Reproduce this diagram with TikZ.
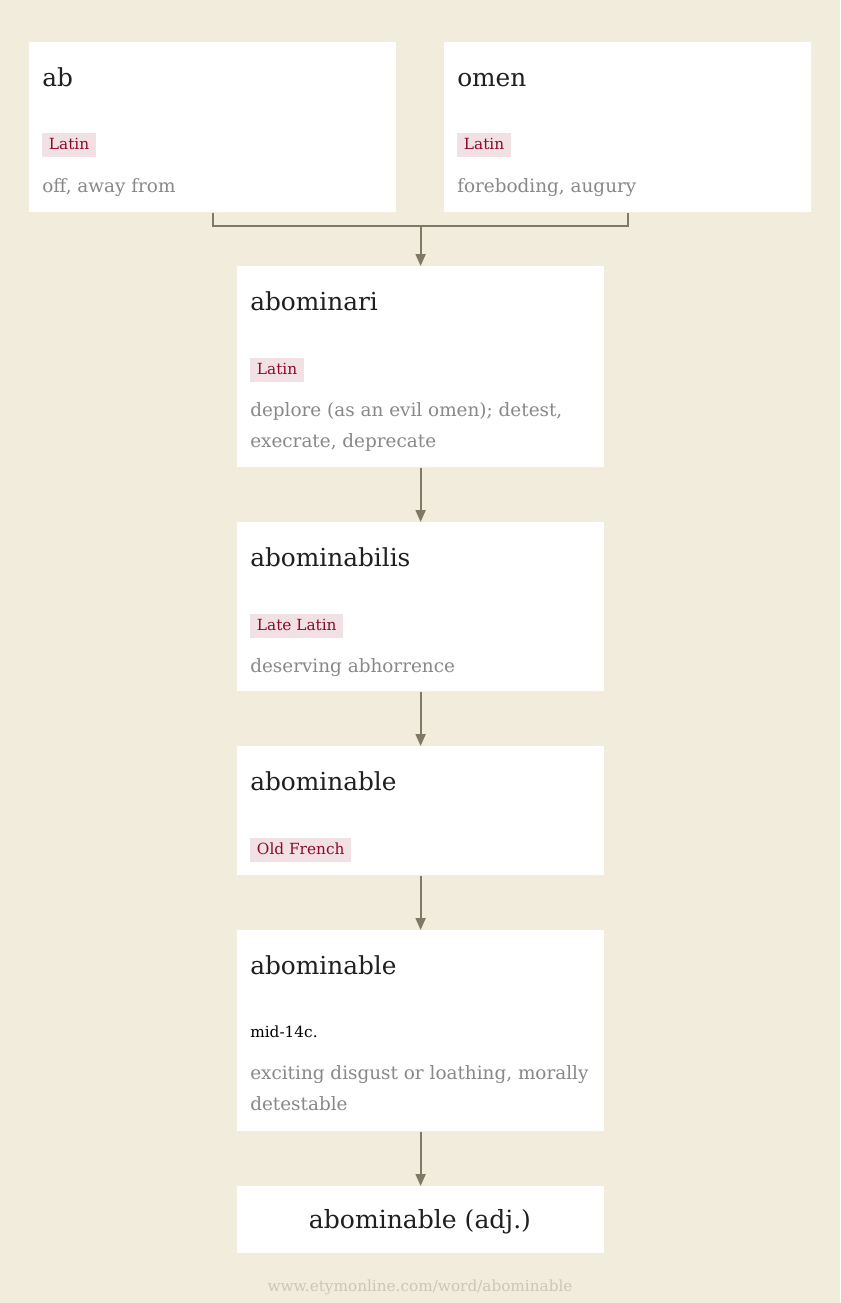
\documentclass[tikz,border=0pt]{standalone}
\usepackage{fontspec}
\setmainfont{DejaVu Serif}
\usetikzlibrary{arrows.meta,positioning}

\definecolor{paper}{RGB}{242,236,220}
\definecolor{tagbg}{RGB}{241,224,228}
\definecolor{tagtx}{RGB}{139,10,42}
\definecolor{glosstx}{RGB}{136,136,136}
\definecolor{linktx}{RGB}{128,121,104}
\definecolor{urltx}{RGB}{205,198,182}

\tikzset{
  wordbox/.style={fill=white, draw=none, anchor=north west, inner sep=0pt, minimum width=275pt},
  headword/.style={anchor=base west, inner sep=0pt, text=black!88, font=\fontsize{18.6}{22}\selectfont},
  langtag/.style={anchor=base west, fill=tagbg, text=tagtx, inner xsep=5pt, inner ysep=2.8pt,
    text height=9.5pt, text depth=3pt, font=\fontsize{11.5}{14}\selectfont},
  gloss/.style={anchor=base west, inner sep=0pt, text=glosstx, align=left, font=\fontsize{13.8}{23.25}\selectfont},
  link/.style={draw=linktx, line width=1.6pt},
  linkarrow/.style={link, -{Triangle[length=9pt,width=7.5pt]}}
}

\begin{document}
\begin{tikzpicture}[x=0.75pt,y=0.75pt,yscale=-1,xscale=1]
\useasboundingbox (0,0) rectangle (840,1303);
\fill[paper] (0,0) rectangle (840,1303);

% Boxes
\node[wordbox, minimum height=127.5pt] (ab) at (29,42) {};
\node[wordbox, minimum height=127.5pt] (omen) at (444,42) {};
\node[wordbox, minimum height=150.75pt] (abominari) at (237,266) {};
\node[wordbox, minimum height=126.75pt] (abominabilis) at (237,522) {};
\node[wordbox, minimum height=96.75pt] (abominableOF) at (237,746) {};
\node[wordbox, minimum height=150.75pt] (abominableME) at (237,930) {};
\node[wordbox, minimum height=50.25pt] (abominableAdj) at (237,1186) {};

% ab
\node[headword] (abTitle) at (42,86) {ab};
\node[langtag] (abLang) at (42,149) {Latin};
\node[gloss] (abGloss) at (42,192) {off, away from};
% omen
\node[headword] (omenTitle) at (457,86) {omen};
\node[langtag] (omenLang) at (457,149) {Latin};
\node[gloss] (omenGloss) at (457,192) {foreboding, augury};
% abominari
\node[headword] (abominariTitle) at (250,310) {abominari};
\node[langtag] (abominariLang) at (250,374) {Latin};
\node[gloss] (abominariGloss) at (250,447) {deplore (as an evil omen); detest,\\execrate, deprecate};
% abominabilis
\node[headword] (abominabilisTitle) at (250,566) {abominabilis};
\node[langtag] (abominabilisLang) at (250,630) {Late Latin};
\node[gloss] (abominabilisGloss) at (250,672) {deserving abhorrence};
% abominable, Old French
\node[headword] (abominableOFTitle) at (250,790) {abominable};
\node[langtag] (abominableOFLang) at (250,854) {Old French};
% abominable, mid-14c.
\node[headword] (abominableMETitle) at (250,974) {abominable};
\node[anchor=base west, inner sep=0pt, text=black, font=\fontsize{11.5}{14}\selectfont] (abominableMEDate) at (250,1037) {mid-14c.};
\node[gloss] (abominableMEGloss) at (250,1110) {exciting disgust or loathing, morally\\detestable};
% abominable (adj.)
\node[anchor=base, inner sep=0pt, text=black!88, font=\fontsize{18.8}{22}\selectfont] (abominableAdjTitle) at (420,1228) {abominable (adj.)};

% Connectors
\path (abominari.north) ++(0,-40) coordinate (join);
\draw[link] (ab.south) |- (join) -| (omen.south);
\draw[linkarrow] (join) -- (abominari.north);
\draw[linkarrow] (abominari.south) -- (abominabilis.north);
\draw[linkarrow] (abominabilis.south) -- (abominableOF.north);
\draw[linkarrow] (abominableOF.south) -- (abominableME.north);
\draw[linkarrow] (abominableME.south) -- (abominableAdj.north);

% Source
\node[anchor=base, inner sep=0pt, text=urltx, font=\fontsize{11.45}{13}\selectfont] (source) at (420,1291) {www.etymonline.com/word/abominable};
\end{tikzpicture}
\end{document}
